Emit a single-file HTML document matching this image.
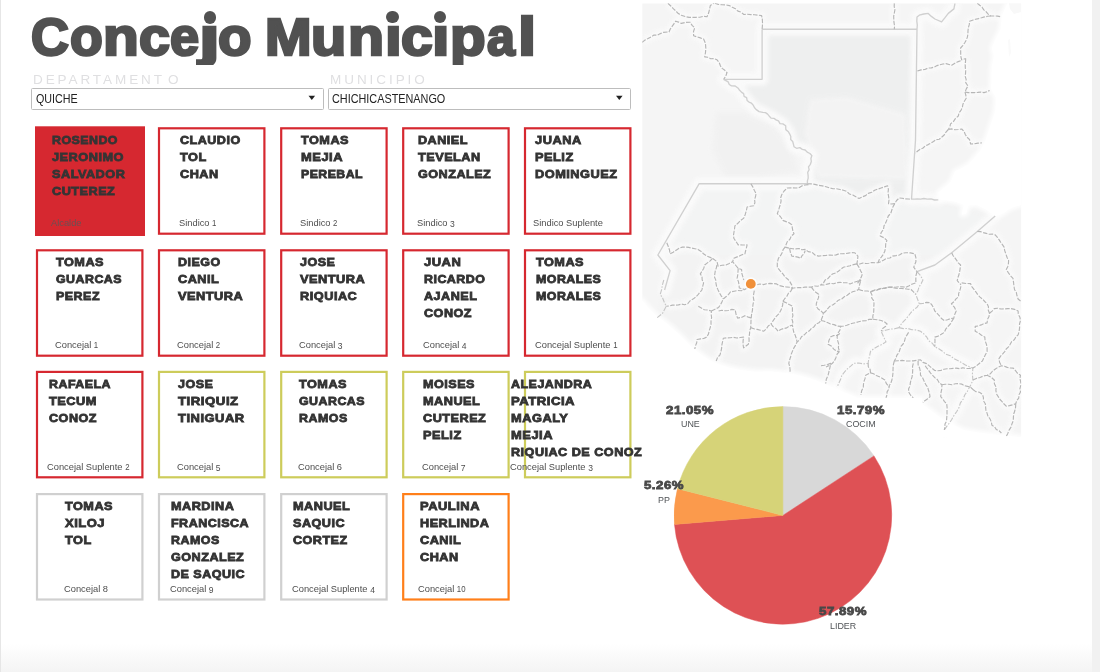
<!DOCTYPE html>
<html><head><meta charset="utf-8"><title>Concejo Municipal</title>
<style>
html,body{margin:0;padding:0;background:#fff;}
body{width:1100px;height:672px;position:relative;overflow:hidden;font-family:"Liberation Sans",sans-serif;}
div{position:absolute;white-space:nowrap;}
.hv{font-weight:bold;line-height:1;transform-origin:0 0;-webkit-text-stroke:0.8px currentColor;letter-spacing:0.45px;}
.lt{line-height:1;transform-origin:0 0;}
.title{font-weight:bold;line-height:1;color:#515151;-webkit-text-stroke:2.6px #515151;transform-origin:0 0;clip-path:inset(-20px -20px -1.8px -20px);}
.cap{color:#dfdfe1;line-height:1;}
.dd{box-sizing:border-box;border:1px solid #bdbdbd;border-radius:1.5px;background:#fff;height:22px;}
.ddt{font-size:12px;color:#222;line-height:1;transform-origin:0 0;}
svg{position:absolute;left:0;top:0;}
</style></head><body>
<div style="left:0;top:644px;width:1100px;height:28px;background:linear-gradient(to bottom,#ffffff,#f4f4f4)"></div>
<div style="left:1092px;top:0;width:8px;height:672px;background:#f1f1f1"></div>
<div style="left:0;top:0;width:1px;height:672px;background:#e6e6e6"></div>
<div class="title" style="left:31.29px;top:11.01px;font-size:52px;transform:scaleX(1.0083)">C</div>
<div class="title" style="left:70.30px;top:9.77px;font-size:53.5px;transform:scaleX(1.0032)">o</div>
<div class="title" style="left:103.11px;top:9.77px;font-size:53.5px;transform:scaleX(1.0931)">n</div>
<div class="title" style="left:138.86px;top:9.77px;font-size:53.5px;transform:scaleX(1.0393)">c</div>
<div class="title" style="left:170.02px;top:9.77px;font-size:53.5px;transform:scaleX(0.9786)">e</div>
<div class="title" style="left:199.00px;top:9.77px;font-size:53.5px;transform:scaleX(1.4000)">ȷ</div>
<div class="title" style="left:218.17px;top:9.77px;font-size:53.5px;transform:scaleX(1.0258)">o</div>
<div class="title" style="left:265.25px;top:11.01px;font-size:52px;transform:scaleX(1.0744)">M</div>
<div class="title" style="left:311.24px;top:9.77px;font-size:53.5px;transform:scaleX(1.0786)">u</div>
<div class="title" style="left:347.99px;top:9.77px;font-size:53.5px;transform:scaleX(1.1034)">n</div>
<div class="title" style="left:384.76px;top:9.77px;font-size:53.5px;transform:scaleX(1.1200)">ı</div>
<div class="title" style="left:400.74px;top:9.77px;font-size:53.5px;transform:scaleX(1.0643)">c</div>
<div class="title" style="left:432.16px;top:9.77px;font-size:53.5px;transform:scaleX(1.1700)">ı</div>
<div class="title" style="left:449.82px;top:9.77px;font-size:53.5px;transform:scaleX(1.0900)">p</div>
<div class="title" style="left:487.00px;top:9.77px;font-size:53.5px;transform:scaleX(0.9355)">a</div>
<div class="title" style="left:518.36px;top:9.77px;font-size:53.5px;transform:scaleX(1.2200)">l</div>
<div style="left:203.5px;top:11.2px;width:12.4px;height:12.4px;border-radius:50%;background:#515151"></div>
<div style="left:386.4px;top:11.2px;width:12.2px;height:12.2px;border-radius:50%;background:#515151"></div>
<div style="left:434.3px;top:11.2px;width:12.2px;height:12.2px;border-radius:50%;background:#515151"></div>
<div class="cap" style="left:33.4px;top:74.0px;font-size:12.3px;letter-spacing:2.64px;transform-origin:0 0;transform:scaleX(1.1)">DEPARTAMENT</div>
<div class="cap" style="left:167.7px;top:74.0px;font-size:12.3px;letter-spacing:0.00px;transform-origin:0 0;transform:scaleX(1.1)">O</div>
<div class="cap" style="left:329.9px;top:74.0px;font-size:12.3px;letter-spacing:2.66px;transform-origin:0 0;transform:scaleX(1.1)">MUNICIPIO</div>
<div class="dd" style="left:31px;top:88px;width:292.5px;"></div>
<div class="dd" style="left:327.5px;top:88px;width:303.5px;"></div>
<div class="ddt" style="left:36px;top:93.4px;transform:scaleX(0.895)">QUICHE</div>
<div class="ddt" style="left:331.7px;top:93.4px;transform:scaleX(0.904)">CHICHICASTENANGO</div>

<svg width="1100" height="672" viewBox="0 0 1100 672">
<path d="M308.5 95.7h6.6l-3.3 4.4z" fill="#222"/>
<path d="M616.0 95.7h6.6l-3.3 4.4z" fill="#222"/>
<rect x="35.0" y="126.3" width="110.0" height="109.7" fill="#d62830"/>
<rect x="159.0" y="128.3" width="105.4" height="105.4" fill="none" stroke="#d62830" stroke-width="2.2"/>
<rect x="281.2" y="128.3" width="105.4" height="105.4" fill="none" stroke="#d62830" stroke-width="2.2"/>
<rect x="403.2" y="128.3" width="105.4" height="105.4" fill="none" stroke="#d62830" stroke-width="2.2"/>
<rect x="525.0" y="128.3" width="105.4" height="105.4" fill="none" stroke="#d62830" stroke-width="2.2"/>
<rect x="37.0" y="250.3" width="105.4" height="105.4" fill="none" stroke="#d62830" stroke-width="2.2"/>
<rect x="159.0" y="250.3" width="105.4" height="105.4" fill="none" stroke="#d62830" stroke-width="2.2"/>
<rect x="281.2" y="250.3" width="105.4" height="105.4" fill="none" stroke="#d62830" stroke-width="2.2"/>
<rect x="403.2" y="250.3" width="105.4" height="105.4" fill="none" stroke="#d62830" stroke-width="2.2"/>
<rect x="525.0" y="250.3" width="105.4" height="105.4" fill="none" stroke="#d62830" stroke-width="2.2"/>
<rect x="37.0" y="371.9" width="105.4" height="105.4" fill="none" stroke="#d62830" stroke-width="2.2"/>
<rect x="159.0" y="371.9" width="105.4" height="105.4" fill="none" stroke="#cdcc5b" stroke-width="2.2"/>
<rect x="281.2" y="371.9" width="105.4" height="105.4" fill="none" stroke="#cdcc5b" stroke-width="2.2"/>
<rect x="403.2" y="371.9" width="105.4" height="105.4" fill="none" stroke="#cdcc5b" stroke-width="2.2"/>
<rect x="525.0" y="371.9" width="105.4" height="105.4" fill="none" stroke="#cdcc5b" stroke-width="2.2"/>
<rect x="37.0" y="494.1" width="105.4" height="105.4" fill="none" stroke="#d0d0d0" stroke-width="2.2"/>
<rect x="159.0" y="494.1" width="105.4" height="105.4" fill="none" stroke="#d0d0d0" stroke-width="2.2"/>
<rect x="281.2" y="494.1" width="105.4" height="105.4" fill="none" stroke="#d0d0d0" stroke-width="2.2"/>
<rect x="403.2" y="494.1" width="105.4" height="105.4" fill="none" stroke="#ff7f1a" stroke-width="2.2"/>
<defs><clipPath id="mapclip"><rect x="642.2" y="3.3" width="379.1" height="433.9"/></clipPath>
<filter id="b3" x="-20%" y="-20%" width="140%" height="140%"><feGaussianBlur stdDeviation="2.2"/></filter>
<filter id="b1" x="-20%" y="-20%" width="140%" height="140%"><feGaussianBlur stdDeviation="0.35"/></filter></defs>
<g id="map" clip-path="url(#mapclip)">
<rect x="642.2" y="3.3" width="379.1" height="433.9" fill="#f5f5f5"/>
<path d="M762.1 29.2 L917.0 29.2 L915.5 140.0 L911.5 199.2 L899.2 198.0 L894.7 203.6 L888.5 203.6 L887.6 185.8 L874.6 190.2 L859.0 198.5 L843.4 190.2 L829.7 188.0 L807.4 183.7 L808.5 166.8 L811.9 155.6 L805.2 150.0 L794.0 146.7 L790.7 139.5 L788.4 131.7 L782.9 123.9 L773.9 118.3 L762.8 112.3 L756.0 109.4 L747.1 100.4 L738.2 88.2 L731.5 85.9 L723.7 79.3 L762.1 79.3 Z" fill="#eeefef" filter="url(#b3)" opacity="0.9"/>
<path d="M809.6 99 L847 96.5 L906 113.7 L908 180 L817.6 178 L804.3 132.5 Z" fill="#f4f4f4" filter="url(#b3)" opacity="0.95"/>
<path d="M716 112 L745 112 L775 126 L793 150 L799 172 L760 178 L725 178 L712 150 Z" fill="#efefef" filter="url(#b3)" opacity="0.55"/>
<path d="M699.2 183.7 L807.4 183.7 L843.4 190.2 L859.0 198.5 L887.6 185.8 L911.5 199.2 L938.3 199.8 L963.9 204.7 L995.2 215.9 L951.7 252.7 L917.0 271.7 L919.3 303.8 L899.0 327.6 L881.2 331.2 L868.1 363.3 L841.9 375.2 L837.1 390.0 L806.7 377.6 L754.3 371.7 L711.4 361.0 L678.1 333.6 L656.7 318.1 L664.6 290.0 L670.1 270.6 L657.9 255.0 Z" fill="#f1f2f2" filter="url(#b3)" opacity="0.35"/>
<g fill="none" stroke="#fafafa" stroke-width="13" stroke-linejoin="round" stroke-linecap="round" filter="url(#b3)" opacity="0.95">
<path d="M762.1 29.2 L917.0 29.2"/>
<path d="M762.1 29.2 L762.1 79.3 L723.7 79.3"/>
<path d="M723.7 79.3 L731.5 85.9 L738.2 88.2 L747.1 100.4 L756.0 109.4 L762.8 112.3 L773.9 118.3 L782.9 123.9 L788.4 131.7 L790.7 139.5 L794.0 146.7 L805.2 150.0 L811.9 155.6 L808.5 166.8 L807.4 183.7"/>
<path d="M807.4 183.7 L699.2 183.7 L657.9 255.0 L670.1 270.6 L664.6 290.0"/>
<path d="M955.0 3.3 L953.9 8.9 L948.3 13.4 L941.6 21.9 L934.9 19.0 L928.2 13.4 L919.3 15.2 L917.0 17.0 L917.0 29.2 L915.5 140.0 L911.5 199.2"/>
<path d="M911.5 199.2 L923.8 198.5 L938.3 199.8"/>
<path d="M995.2 215.9 L977.3 231.5 L951.7 252.7 L934.9 265.0 L917.0 271.7"/>
<path d="M917.0 271.7 L922.9 280.0 L915.7 294.3 L919.3 303.8 L908.6 315.7 L899.0 327.6"/>
<path d="M899.0 327.6 L881.2 331.2 L886.0 341.9 L870.5 351.4 L868.1 363.3 L853.8 363.3 L841.9 375.2 L837.1 387.1"/>
<path d="M899.0 327.6 L920.5 331.2 L934.8 346.7 L953.8 358.6 L972.9 368.1 L972.9 380.0 L963.3 399.0 L953.8 415.7 L944.3 430.0"/>
</g>
<g fill="none" stroke="#fafafa" stroke-width="8" stroke-linejoin="round" filter="url(#b3)" opacity="0.9">
<path d="M667.9 3.3 L673.5 8.9 L681.3 15.2 L689.1 17.4 L707.0 16.7 L710.3 5.6 L713.7 3.3"/>
<path d="M714.8 3.3 L729.3 5.6 L743.8 14.5 L761.6 15.6 L762.1 29.2"/>
<path d="M642.2 42.4 L651.2 36.8 L663.4 32.4 L669.0 31.9 L675.7 21.2 L681.3 23.4 L690.2 22.3 L694.7 27.9 L693.6 35.7 L703.6 39.0 L705.8 48.0 L704.7 56.9 L717.0 59.8 L720.4 65.8 L727.0 72.5 L723.7 79.3"/>
<path d="M894.3 3.3 L894.3 29.2"/>
<path d="M977.3 3.3 L990.7 16.0 L1000.8 16.7"/>
<path d="M990.7 16.0 L969.5 21.2 L966.2 40.2 L960.6 48.0 L961.7 59.8 L965.7 58.5"/>
<path d="M917.4 71.0 L928.2 68.0 L946.0 63.6 L951.7 65.2 L961.7 60.3"/>
<path d="M965.7 58.5 L965.7 82.6 L968.0 86.0 L965.0 92.0"/>
<path d="M965.0 92.0 L984.0 92.6 L989.6 90.4"/>
<path d="M965.0 92.0 L966.2 98.2 L958.3 116.0 L950.5 123.9 L948.3 129.5"/>
<path d="M948.3 129.5 L961.7 129.0 L969.5 139.5 L970.6 144.0 L981.8 142.9"/>
<path d="M948.3 129.5 L941.6 137.3 L928.2 144.6 L915.4 153.0"/>
<path d="M807.4 183.7 L818.6 185.3 L829.7 188.0 L843.4 190.2 L859.0 198.5 L874.6 190.2 L887.6 185.8 L888.5 203.6 L894.7 203.6 L899.2 198.0 L911.5 199.2"/>
<path d="M750.9 183.7 L756.1 193.6 L753.8 205.8 L747.1 207.0 L743.8 218.1 L734.9 225.9 L733.8 238.2 L738.2 244.9 L747.1 244.9 L744.9 253.8 L733.8 258.3 L732.6 261.7 L738.2 268.3 L741.6 269.5 L743.8 280.0"/>
<path d="M808.5 184.6 L796.2 188.0 L787.3 188.0 L781.7 194.7 L779.5 207.0 L777.3 213.7 L782.9 220.4 L791.8 224.8 L794.0 233.8 L787.3 241.6 L785.1 247.1 L789.6 248.3"/>
<path d="M789.6 248.3 L805.2 249.4 L818.6 256.1 L830.0 255.0 L854.6 252.7 L857.9 256.1 L856.8 263.9 L878.0 262.8 L892.5 256.1 L905.9 252.7 L914.8 253.8 L915.9 261.7 L913.7 267.2 L917.0 271.7"/>
<path d="M789.6 248.3 L791.8 256.1 L800.7 258.3 L805.2 250.5"/>
<path d="M785.1 247.1 L778.4 258.3 L777.3 267.2 L782.9 273.9 L791.8 285.1 L792.4 288.3"/>
<path d="M894.7 203.6 L885.8 222.6 L880.2 236.0 L886.9 240.4 L884.7 251.6 L878.0 262.8"/>
<path d="M666.8 242.7 L670.1 253.8 L682.4 247.1 L698.0 249.4 L707.0 256.1 L712.5 258.3 L717.0 261.7 L718.1 266.1 L725.9 265.0 L732.6 261.7"/>
<path d="M712.5 258.3 L704.7 265.0 L700.3 273.9 L703.6 282.9 L701.9 290.0 L698.3 294.3 L687.6 303.8 L666.2 306.2"/>
<path d="M717.0 265.0 L714.8 273.9 L715.9 282.9 L718.1 290.0 L723.3 299.0"/>
<path d="M738.2 268.3 L737.1 278.4 L739.3 288.0 L744.8 289.5"/>
<path d="M756.7 284.8 L773.3 283.6 L792.4 288.3 L811.4 287.1 L821.0 284.8 L840.0 282.4 L850.0 284.0 L861.0 280.0"/>
<path d="M698.3 306.2 L704.3 309.8 L711.4 311.0 L710.2 327.6 L706.7 337.1 L697.1 339.5 L694.8 349.0"/>
<path d="M711.4 311.0 L718.6 307.4 L723.3 299.0 L730.5 291.9 L744.8 289.5 L749.5 286.5"/>
<path d="M718.6 311.0 L735.2 309.8 L737.6 318.1 L744.8 315.7 L751.9 318.1"/>
<path d="M754.3 290.7 L753.1 303.8 L750.7 327.6 L748.3 344.3 L743.6 347.9 L743.6 337.1 L723.3 338.3 L721.0 351.4 L716.2 361.0"/>
<path d="M750.7 327.6 L763.8 331.2 L771.0 324.0 L778.1 331.2 L792.4 325.2 L797.1 341.9 L792.4 351.4 L788.8 363.3 L790.0 373.0"/>
<path d="M792.4 288.3 L782.9 301.4 L780.5 311.0 L771.0 324.0"/>
<path d="M782.9 301.4 L792.4 306.2 L792.4 325.2"/>
<path d="M811.4 287.1 L818.6 294.3 L816.2 306.2 L823.3 313.3 L821.0 320.5 L806.7 332.4 L797.1 341.9"/>
<path d="M823.3 313.3 L830.0 306.2 L844.3 296.7 L858.6 289.5 L861.0 280.0"/>
<path d="M821.0 320.5 L830.5 324.0 L840.7 326.4"/>
<path d="M840.0 333.6 L830.5 337.1 L828.1 344.3 L837.6 351.4 L839.5 351.4"/>
<path d="M821.0 365.7 L830.5 363.3 L828.1 375.2 L825.7 383.5"/>
<path d="M856.8 263.9 L843.4 267.2 L830.0 276.2 L821.0 284.8"/>
<path d="M856.8 263.9 L862.4 273.9 L857.9 282.9 L861.0 280.0"/>
<path d="M917.0 271.7 L915.9 282.9 L905.9 287.3 L888.0 287.3 L874.6 290.0 L870.5 291.9"/>
<path d="M858.6 289.5 L870.5 291.9 L874.0 303.8 L872.9 319.3 L858.6 321.7 L840.7 326.4 L837.1 337.1 L839.5 351.4 L832.4 363.3 L826.0 367.0"/>
<path d="M870.5 291.9 L889.5 287.1 L911.0 289.5 L915.7 294.3"/>
<path d="M872.9 319.3 L881.2 320.5 L887.1 324.0 L881.2 331.2"/>
<path d="M977.3 231.5 L995.2 234.9 L1004.1 247.1 L1008.6 260.5 L1006.3 269.5 L1013.0 278.4 L1014.5 289.5 L1018.1 299.0 L1021.0 301.4"/>
<path d="M951.7 252.7 L960.6 265.0 L957.2 280.6 L961.0 284.8"/>
<path d="M961.7 282.9 L970.5 283.6 L977.6 294.3 L987.1 303.8 L989.5 313.3 L987.1 322.9 L975.2 326.4 L975.2 331.2 L984.8 337.1 L987.1 351.4 L982.4 361.0 L972.9 368.1"/>
<path d="M919.3 303.8 L930.0 302.6 L937.1 313.3 L944.3 320.5 L953.8 318.1 L956.2 311.0 L951.4 303.8 L958.6 296.7 L961.0 284.8"/>
<path d="M953.8 318.1 L944.3 332.4 L934.8 337.1 L934.8 346.7"/>
<path d="M989.5 313.3 L994.3 308.6 L1011.0 308.6 L1018.1 311.0 L1020.5 320.5 L1018.1 334.8 L1006.2 349.0 L999.0 358.6 L1001.4 365.7"/>
<path d="M972.9 380.0 L987.1 375.2 L1001.4 365.7 L1013.3 368.1 L1020.5 375.2 L1020.5 391.9 L1015.7 403.8 L1006.2 406.2 L996.7 394.3 L994.3 380.0 L987.1 375.2"/>
<path d="M1015.7 403.8 L1013.3 420.5 L1006.2 436.5"/>
<path d="M972.9 389.5 L982.4 394.3 L987.1 413.3 L991.9 425.2 L1001.4 433.0"/>
<path d="M908.6 332.4 L894.3 361.0"/>
<path d="M894.3 361.0 L906.2 361.0 L920.5 359.8 L934.8 370.5 L956.2 368.1 L972.9 368.1"/>
<path d="M894.3 361.0 L891.9 380.0 L887.1 391.9 L886.0 397.9"/>
<path d="M913.3 363.3 L911.0 380.0 L908.6 391.9 L913.3 397.9"/>
<path d="M918.1 361.0 L920.5 375.2 L927.6 387.1 L930.0 396.7 L922.9 402.5"/>
<path d="M925.2 365.7 L934.8 377.6 L941.9 384.8 L940.7 396.7 L946.7 403.8 L946.7 418.1 L944.3 430.0"/>
<path d="M941.9 384.8 L958.6 383.6 L970.5 387.1 L972.9 389.5"/>
<path d="M868.1 363.3 L870.5 372.9 L865.7 375.2 L863.3 387.1 L861.0 395.0"/>
<path d="M870.5 372.9 L884.8 380.0 L889.5 387.1"/>
</g>
<path d="M1007.5 3.3 L1001.9 15.6 L1000.8 29.0 L995.2 40.0 L991.8 48.0 L994.0 55.8 L991.8 67.0 L991.2 89.3 L996.3 98.2 L995.2 111.6 L990.7 125.0 L986.3 138.4 L980.5 150.7 L968.5 164.4 L961.0 168.5 L955.0 171.2 L950.5 182.4 L938.3 192.5 L939.4 199.2 L955.0 201.4 L963.9 204.7 L961.7 214.8 L966.2 213.7 L968.4 205.5 L976.0 204.5 L986.0 209.5 L995.2 215.9 L1003.0 213.5 L1010.0 208.5 L1021.3 204.7 L1022.3 204.7 L1022.3 2.3 L1007.5 2.3 Z" fill="#fff" stroke="#fff" stroke-width="5" stroke-linejoin="round" filter="url(#b3)" opacity="0.9"/>
<path d="M1007.5 3.3 L1001.9 15.6 L1000.8 29.0 L995.2 40.0 L991.8 48.0 L994.0 55.8 L991.8 67.0 L991.2 89.3 L996.3 98.2 L995.2 111.6 L990.7 125.0 L986.3 138.4 L980.5 150.7 L968.5 164.4 L961.0 168.5 L955.0 171.2 L950.5 182.4 L938.3 192.5 L939.4 199.2 L955.0 201.4 L963.9 204.7 L961.7 214.8 L966.2 213.7 L968.4 205.5 L976.0 204.5 L986.0 209.5 L995.2 215.9 L1003.0 213.5 L1010.0 208.5 L1021.3 204.7 L1022.3 204.7 L1022.3 2.3 L1007.5 2.3 Z" fill="#fff"/>
<path d="M642.4 300.2 C643.2 301.2 644.7 303.6 647.1 306.2 C649.5 308.8 653.5 312.9 656.7 315.7 C659.9 318.5 662.6 319.9 666.2 322.9 C669.8 325.9 674.5 330.2 678.1 333.6 C681.7 337.0 684.4 340.1 687.6 343.1 C690.8 346.1 693.1 348.4 697.1 351.4 C701.1 354.4 705.8 358.2 711.4 361.0 C717.0 363.8 723.4 366.3 730.5 368.1 C737.6 369.9 747.2 371.1 754.3 371.7 C761.4 372.3 766.9 371.3 773.3 371.7 C779.6 372.1 786.8 373.0 792.4 374.0 C798.0 375.0 801.9 376.2 806.7 377.6 C811.5 379.0 815.5 380.3 821.0 382.4 C826.5 384.5 834.0 387.9 839.5 390.2 C845.0 392.5 851.4 395.2 853.8 396.2 L858.0 397.9 L921.7 397.9 L921.7 403.8 L944.3 420.5 L963.3 430.0 L977.6 432.4 L996.7 434.8 L1021.3 437.2 L1022.3 438.2 L641.2 438.2 L641.2 299.5 Z" fill="#fff" stroke="#fff" stroke-width="5" stroke-linejoin="round" filter="url(#b3)" opacity="0.9"/>
<path d="M642.4 300.2 C643.2 301.2 644.7 303.6 647.1 306.2 C649.5 308.8 653.5 312.9 656.7 315.7 C659.9 318.5 662.6 319.9 666.2 322.9 C669.8 325.9 674.5 330.2 678.1 333.6 C681.7 337.0 684.4 340.1 687.6 343.1 C690.8 346.1 693.1 348.4 697.1 351.4 C701.1 354.4 705.8 358.2 711.4 361.0 C717.0 363.8 723.4 366.3 730.5 368.1 C737.6 369.9 747.2 371.1 754.3 371.7 C761.4 372.3 766.9 371.3 773.3 371.7 C779.6 372.1 786.8 373.0 792.4 374.0 C798.0 375.0 801.9 376.2 806.7 377.6 C811.5 379.0 815.5 380.3 821.0 382.4 C826.5 384.5 834.0 387.9 839.5 390.2 C845.0 392.5 851.4 395.2 853.8 396.2 L858.0 397.9 L921.7 397.9 L921.7 403.8 L944.3 420.5 L963.3 430.0 L977.6 432.4 L996.7 434.8 L1021.3 437.2 L1022.3 438.2 L641.2 438.2 L641.2 299.5 Z" fill="#fff"/>
<path d="M1009 3 L1021 3 L1021 12 L1014 14 L1010 9 Z" fill="#f8f8f8"/>
<path d="M1008 40 l2 -1 l1 14 l-2 4 z" fill="#fafafa"/>
<g fill="none" stroke="#d0d0d0" stroke-width="1.35" stroke-linejoin="round">
<path d="M762.1 29.2 L917.0 29.2"/>
<path d="M762.1 29.2 L762.1 79.3 L723.7 79.3"/>
<path d="M807.4 183.7 L699.2 183.7 L657.9 255.0 L670.1 270.6 L664.6 290.0"/>
<path d="M723.7 79.3 L725.9 80.6 L728.2 81.9 L729.3 84.5 L731.5 85.9 L735.2 86.0 L738.2 88.2 L739.6 90.3 L741.4 92.1 L743.6 93.6 L744.1 96.3 L746.6 97.7 L747.1 100.4 L749.0 102.1 L751.5 103.2 L753.2 105.1 L754.4 107.5 L756.0 109.4 L759.1 111.6 L762.8 112.3 L765.5 112.6 L767.6 114.1 L769.3 116.2 L771.1 118.1 L773.9 118.3 L776.0 119.9 L778.5 120.9 L780.0 123.6 L782.9 123.9 L785.7 125.8 L785.8 129.6 L788.4 131.7 L789.7 134.1 L790.8 136.6 L790.7 139.5 L792.7 141.5 L793.4 144.1 L794.0 146.7 L796.6 148.3 L799.8 147.6 L802.3 149.4 L805.2 150.0 L807.2 152.1 L809.9 153.5 L811.9 155.6 L810.9 158.4 L811.3 161.5 L810.4 164.3 L808.5 166.8 L809.1 169.7 L807.7 172.4 L808.1 175.3 L808.2 178.1 L807.4 180.9 L807.4 183.7"/>
<path d="M955.0 3.3 L953.9 8.9 L948.3 13.4 L945.0 17.7 L941.6 21.9 L934.9 19.0 L931.4 16.4 L928.2 13.4 L923.7 14.0 L919.3 15.2 L917.0 17.0 L916.8 21.1 L917.3 25.1 L917.0 29.2 L915.5 140.0 L911.5 199.2"/>
<path d="M911.5 199.2 L914.6 199.1 L917.6 198.9 L920.7 199.1 L923.8 198.5 L927.4 199.1 L931.0 198.9 L934.6 200.0 L938.3 199.8"/>
<path d="M995.2 215.9 L977.3 231.5 L951.7 252.7 L934.9 265.0 L917.0 271.7"/>
</g>
<g fill="none" stroke="#c6c6c6" stroke-width="1.1" stroke-linejoin="round" stroke-dasharray="5 1.5 1.5 1.5">
<path d="M917.0 271.7 L920.4 275.5 L922.9 280.0 L921.2 283.6 L919.0 287.0 L917.9 290.9 L915.7 294.3 L917.5 299.0 L919.3 303.8 L917.1 307.2 L913.8 309.6 L911.0 312.5 L908.6 315.7 L905.3 319.6 L901.8 323.3 L899.0 327.6"/>
<path d="M899.0 327.6 L894.6 328.8 L890.0 329.1 L885.6 330.2 L881.2 331.2 L883.5 336.6 L886.0 341.9 L882.2 344.3 L878.0 346.2 L874.0 348.5 L870.5 351.4 L869.7 355.4 L868.7 359.3 L868.1 363.3 L863.3 363.9 L858.6 363.0 L853.8 363.3 L850.7 366.1 L847.4 368.8 L844.6 371.9 L841.9 375.2 L840.6 379.3 L838.8 383.2 L837.1 387.1"/>
<path d="M899.0 327.6 L903.3 328.6 L907.7 328.4 L911.9 329.7 L916.3 330.0 L920.5 331.2 L923.8 333.9 L926.7 337.0 L928.8 340.8 L932.3 343.2 L934.8 346.7 L938.8 348.8 L942.5 351.3 L945.9 354.3 L950.3 355.7 L953.8 358.6 L957.7 360.4 L961.4 362.5 L965.0 364.8 L968.9 366.6 L972.9 368.1 L972.4 374.1 L972.9 380.0 L971.3 383.9 L969.2 387.7 L967.3 391.5 L964.7 395.0 L963.3 399.0 L960.4 402.9 L959.0 407.6 L956.6 411.7 L953.8 415.7 L951.7 419.5 L949.4 423.1 L946.7 426.4 L944.3 430.0"/>
<path d="M663.8 280.0 L662.5 284.7 L661.6 289.6 L660.2 294.3 L662.6 298.0 L664.3 302.2 L666.2 306.2 L662.6 313.3 L656.7 318.1"/>
</g>
<g fill="none" stroke="#b6b6b6" stroke-width="1.15" stroke-linejoin="round" stroke-dasharray="4.5 1.4">
<path d="M667.9 3.3 L670.8 6.0 L673.5 8.9 L676.0 11.1 L678.3 13.6 L681.3 15.2 L685.1 16.5 L689.1 17.4 L692.7 17.3 L696.3 17.3 L699.8 17.2 L703.4 16.3 L707.0 16.7 L708.6 13.1 L709.5 9.4 L710.3 5.6 L713.7 3.3"/>
<path d="M714.8 3.3 L718.3 4.4 L722.0 4.8 L725.7 4.9 L729.3 5.6 L732.3 7.3 L735.4 8.7 L737.9 11.1 L741.2 12.2 L743.8 14.5 L747.4 14.2 L750.9 14.6 L754.5 14.7 L758.1 15.2 L761.6 15.6 L762.3 19.0 L762.5 22.4 L762.4 25.8 L762.1 29.2"/>
<path d="M642.2 42.4 L644.9 40.1 L648.1 38.5 L651.2 36.8 L654.0 35.1 L657.5 35.1 L660.4 33.6 L663.4 32.4 L669.0 31.9 L670.3 29.0 L672.1 26.4 L673.9 23.8 L675.7 21.2 L678.6 22.1 L681.3 23.4 L685.7 22.4 L690.2 22.3 L692.1 25.4 L694.7 27.9 L693.5 31.7 L693.6 35.7 L696.9 36.8 L700.3 37.9 L703.6 39.0 L704.9 41.9 L705.6 44.9 L705.8 48.0 L705.5 52.5 L704.7 56.9 L707.8 57.3 L710.8 58.8 L714.0 58.6 L717.0 59.8 L719.2 62.5 L720.4 65.8 L722.2 68.4 L724.8 70.3 L727.0 72.5 L725.8 76.1 L723.7 79.3"/>
<path d="M894.3 3.3 L894.2 6.5 L894.9 9.8 L894.3 13.0 L893.7 16.2 L893.8 19.5 L894.0 22.7 L894.6 26.0 L894.3 29.2"/>
<path d="M977.3 3.3 L979.7 5.3 L982.1 7.2 L983.8 9.9 L986.2 11.8 L988.2 14.1 L990.7 16.0 L994.1 16.0 L997.5 16.1 L1000.8 16.7"/>
<path d="M990.7 16.0 L987.6 16.3 L984.5 16.9 L981.5 17.8 L978.5 18.6 L975.5 19.3 L972.5 20.2 L969.5 21.2 L969.3 24.4 L968.4 27.5 L968.0 30.7 L967.9 34.0 L967.4 37.1 L966.2 40.2 L964.6 43.0 L962.7 45.6 L960.6 48.0 L960.7 52.0 L960.7 55.9 L961.7 59.8 L965.7 58.5"/>
<path d="M917.4 71.0 L921.0 69.9 L924.8 69.5 L928.2 68.0 L931.3 67.9 L934.3 67.1 L937.1 65.6 L940.0 64.7 L942.9 64.0 L946.0 63.6 L951.7 65.2 L954.9 63.2 L958.2 61.6 L961.7 60.3"/>
<path d="M965.7 58.5 L965.5 61.5 L965.2 64.5 L965.3 67.5 L965.7 70.5 L965.5 73.6 L965.3 76.6 L966.2 79.6 L965.7 82.6 L968.0 86.0 L966.3 88.9 L965.0 92.0"/>
<path d="M965.0 92.0 L968.1 92.6 L971.3 92.6 L974.5 92.6 L977.7 92.4 L980.8 92.1 L984.0 92.6 L986.9 91.8 L989.6 90.4"/>
<path d="M965.0 92.0 L965.8 95.1 L966.2 98.2 L964.5 101.0 L963.0 103.9 L962.4 107.2 L961.1 110.1 L959.1 112.8 L958.3 116.0 L955.5 118.4 L953.4 121.6 L950.5 123.9 L949.9 126.9 L948.3 129.5"/>
<path d="M948.3 129.5 L951.6 128.9 L955.0 129.8 L958.4 129.5 L961.7 129.0 L964.0 131.4 L965.3 134.5 L967.0 137.2 L969.5 139.5 L970.6 144.0 L974.4 143.8 L978.0 143.1 L981.8 142.9"/>
<path d="M948.3 129.5 L946.0 132.1 L944.2 135.0 L941.6 137.3 L939.2 139.3 L935.9 139.7 L933.5 141.5 L930.9 143.1 L928.2 144.6 L925.3 145.8 L923.1 148.0 L920.3 149.2 L917.7 151.0 L915.4 153.0"/>
<path d="M807.4 183.7 L811.2 183.9 L814.9 184.4 L818.6 185.3 L822.4 185.9 L826.1 186.8 L829.7 188.0 L833.1 188.7 L836.6 188.8 L840.0 189.5 L843.4 190.2 L846.7 191.4 L849.4 194.0 L852.8 195.0 L855.9 196.8 L859.0 198.5 L862.2 196.9 L865.5 195.6 L868.3 193.4 L871.7 192.3 L874.6 190.2 L877.9 189.1 L881.1 188.0 L884.4 186.9 L887.6 185.8 L888.4 189.3 L888.0 192.9 L888.6 196.4 L889.0 200.0 L888.5 203.6 L891.6 204.0 L894.7 203.6 L896.6 200.5 L899.2 198.0 L902.3 198.3 L905.3 198.9 L908.4 199.0 L911.5 199.2"/>
<path d="M750.9 183.7 L752.8 186.9 L754.3 190.3 L756.1 193.6 L755.5 196.6 L754.6 199.6 L754.9 202.8 L753.8 205.8 L750.4 206.3 L747.1 207.0 L746.3 210.8 L745.2 214.5 L743.8 218.1 L740.6 220.4 L737.9 223.3 L734.9 225.9 L734.5 229.0 L734.0 232.0 L733.5 235.1 L733.8 238.2 L736.0 241.5 L738.2 244.9 L742.7 245.0 L747.1 244.9 L746.4 247.9 L745.6 250.8 L744.9 253.8 L742.0 254.7 L739.3 256.1 L736.5 257.1 L733.8 258.3 L732.6 261.7 L735.4 265.0 L738.2 268.3 L741.6 269.5 L741.8 273.1 L742.8 276.6 L743.8 280.0"/>
<path d="M808.5 184.6 L805.3 185.0 L802.2 185.7 L799.4 187.5 L796.2 188.0 L791.8 187.9 L787.3 188.0 L784.1 191.0 L781.7 194.7 L780.7 197.7 L781.1 200.9 L780.5 204.0 L779.5 207.0 L778.5 210.4 L777.3 213.7 L780.5 216.7 L782.9 220.4 L786.0 221.6 L789.1 222.8 L791.8 224.8 L792.3 227.8 L792.9 230.9 L794.0 233.8 L791.4 236.0 L789.9 239.3 L787.3 241.6 L785.1 247.1 L789.6 248.3"/>
<path d="M789.6 248.3 L792.7 248.8 L795.8 248.9 L799.0 248.5 L802.0 249.7 L805.2 249.4 L808.3 251.6 L812.1 252.4 L815.0 255.0 L818.6 256.1 L822.4 255.6 L826.2 255.4 L830.0 255.0 L833.1 255.3 L836.2 254.9 L839.2 253.7 L842.3 253.8 L845.4 253.6 L848.4 253.1 L851.5 252.6 L854.6 252.7 L857.9 256.1 L857.6 260.0 L856.8 263.9 L859.8 264.0 L862.8 263.0 L865.9 263.5 L868.9 263.2 L871.9 262.5 L875.0 262.7 L878.0 262.8 L881.0 261.6 L883.8 260.1 L886.5 258.3 L889.9 258.0 L892.5 256.1 L895.9 255.6 L899.4 255.0 L902.4 253.1 L905.9 252.7 L910.4 252.9 L914.8 253.8 L915.9 257.7 L915.9 261.7 L913.7 267.2 L917.0 271.7"/>
<path d="M789.6 248.3 L790.4 252.3 L791.8 256.1 L794.8 256.5 L797.8 257.1 L800.7 258.3 L802.1 255.6 L804.2 253.4 L805.2 250.5"/>
<path d="M785.1 247.1 L783.1 249.7 L782.0 252.9 L780.5 255.7 L778.4 258.3 L777.3 262.7 L777.3 267.2 L780.0 270.6 L782.9 273.9 L784.9 276.9 L787.8 279.2 L790.0 281.9 L791.8 285.1 L792.4 288.3"/>
<path d="M894.7 203.6 L893.0 206.7 L891.8 210.0 L890.8 213.3 L888.3 216.0 L887.1 219.4 L885.8 222.6 L884.0 225.8 L883.5 229.5 L881.2 232.5 L880.2 236.0 L883.9 237.7 L886.9 240.4 L885.7 244.0 L885.5 247.9 L884.7 251.6 L883.2 254.5 L881.3 257.2 L879.2 259.7 L878.0 262.8"/>
<path d="M666.8 242.7 L668.2 246.3 L669.5 250.0 L670.1 253.8 L673.2 252.2 L676.1 250.2 L679.1 248.3 L682.4 247.1 L685.6 247.1 L688.7 247.4 L691.8 248.1 L694.9 248.7 L698.0 249.4 L701.2 251.4 L703.8 254.1 L707.0 256.1 L712.5 258.3 L717.0 261.7 L718.1 266.1 L722.0 265.3 L725.9 265.0 L729.3 263.4 L732.6 261.7"/>
<path d="M712.5 258.3 L710.2 260.9 L707.4 262.9 L704.7 265.0 L703.8 268.2 L702.1 271.1 L700.3 273.9 L702.0 276.7 L702.2 280.0 L703.6 282.9 L702.7 286.4 L701.9 290.0 L698.3 294.3 L695.9 297.0 L693.0 299.1 L689.9 301.0 L687.6 303.8 L684.6 304.7 L681.4 304.1 L678.4 304.9 L675.4 305.2 L672.3 305.1 L669.3 306.0 L666.2 306.2"/>
<path d="M717.0 265.0 L716.3 268.0 L715.3 270.9 L714.8 273.9 L714.5 277.0 L715.7 279.9 L715.9 282.9 L716.6 286.6 L718.1 290.0 L719.6 293.1 L721.4 296.1 L723.3 299.0"/>
<path d="M738.2 268.3 L738.0 271.7 L737.7 275.1 L737.1 278.4 L738.4 281.5 L739.0 284.7 L739.3 288.0 L744.8 289.5"/>
<path d="M756.7 284.8 L760.0 284.0 L763.4 284.6 L766.6 283.8 L769.9 283.4 L773.3 283.6 L776.6 283.9 L779.6 285.6 L782.7 286.4 L786.0 286.9 L789.3 287.2 L792.4 288.3 L795.5 287.8 L798.7 287.6 L801.9 287.6 L805.0 287.1 L808.2 287.2 L811.4 287.1 L814.5 286.0 L817.9 286.2 L821.0 284.8 L824.2 285.0 L827.3 284.1 L830.5 283.3 L833.7 283.8 L836.8 282.6 L840.0 282.4 L843.4 282.7 L846.8 282.8 L850.0 284.0 L853.6 282.5 L857.3 281.3 L861.0 280.0"/>
<path d="M698.3 306.2 L701.3 308.0 L704.3 309.8 L707.9 310.0 L711.4 311.0 L711.2 314.3 L711.6 317.7 L711.0 321.0 L711.0 324.3 L710.2 327.6 L709.2 330.8 L708.4 334.1 L706.7 337.1 L703.7 338.5 L700.4 338.9 L697.1 339.5 L696.7 342.7 L695.5 345.8 L694.8 349.0"/>
<path d="M711.4 311.0 L715.0 309.2 L718.6 307.4 L720.5 304.8 L721.9 301.9 L723.3 299.0 L725.9 296.8 L728.4 294.6 L730.5 291.9 L734.1 291.2 L737.6 290.5 L741.3 290.7 L744.8 289.5 L749.5 286.5"/>
<path d="M718.6 311.0 L721.9 310.3 L725.3 310.8 L728.6 310.5 L731.8 309.4 L735.2 309.8 L736.0 314.1 L737.6 318.1 L741.4 317.4 L744.8 315.7 L748.3 317.1 L751.9 318.1"/>
<path d="M754.3 290.7 L753.7 293.9 L753.3 297.2 L753.9 300.6 L753.1 303.8 L752.7 307.2 L752.4 310.6 L751.6 314.0 L751.3 317.4 L751.0 320.8 L750.9 324.2 L750.7 327.6 L749.7 330.9 L749.5 334.2 L749.0 337.6 L749.1 341.0 L748.3 344.3 L743.6 347.9 L743.0 344.3 L743.1 340.7 L743.6 337.1 L740.2 337.5 L736.9 338.0 L733.4 337.3 L730.1 337.8 L726.7 337.9 L723.3 338.3 L722.6 341.5 L721.9 344.8 L721.6 348.1 L721.0 351.4 L720.0 354.9 L717.5 357.6 L716.2 361.0"/>
<path d="M750.7 327.6 L753.9 328.8 L757.2 329.4 L760.5 330.3 L763.8 331.2 L766.3 328.9 L768.2 326.0 L771.0 324.0 L773.1 326.6 L776.0 328.6 L778.1 331.2 L780.7 329.5 L783.7 328.5 L786.8 327.9 L789.4 326.0 L792.4 325.2 L793.0 328.6 L793.7 332.0 L795.2 335.2 L796.3 338.5 L797.1 341.9 L795.6 345.1 L793.8 348.1 L792.4 351.4 L791.2 354.3 L790.5 357.3 L789.5 360.3 L788.8 363.3 L789.7 366.5 L790.1 369.7 L790.0 373.0"/>
<path d="M792.4 288.3 L790.8 291.1 L788.3 293.4 L786.9 296.3 L784.7 298.7 L782.9 301.4 L782.7 304.8 L781.9 307.9 L780.5 311.0 L778.8 313.8 L776.5 316.1 L774.6 318.7 L772.7 321.3 L771.0 324.0"/>
<path d="M782.9 301.4 L786.2 302.8 L789.2 304.6 L792.4 306.2 L792.4 309.4 L792.4 312.5 L792.9 315.7 L791.9 318.9 L792.8 322.0 L792.4 325.2"/>
<path d="M811.4 287.1 L813.4 289.9 L815.8 292.3 L818.6 294.3 L818.6 297.4 L817.5 300.3 L816.4 303.1 L816.2 306.2 L818.1 309.0 L821.0 310.9 L823.3 313.3 L822.4 317.0 L821.0 320.5 L818.9 322.8 L815.9 324.0 L814.1 326.7 L811.4 328.4 L809.4 330.8 L806.7 332.4 L804.3 334.8 L801.5 336.7 L799.8 339.9 L797.1 341.9"/>
<path d="M823.3 313.3 L825.8 311.2 L827.8 308.6 L830.0 306.2 L833.1 304.7 L835.9 302.6 L838.4 300.2 L841.7 299.0 L844.3 296.7 L847.2 295.2 L849.7 293.3 L852.6 291.8 L855.7 290.9 L858.6 289.5 L859.3 286.3 L860.0 283.1 L861.0 280.0"/>
<path d="M821.0 320.5 L824.3 321.2 L827.4 322.6 L830.5 324.0 L834.0 324.6 L837.2 326.0 L840.7 326.4"/>
<path d="M840.0 333.6 L837.1 335.4 L833.6 335.6 L830.5 337.1 L828.9 340.6 L828.1 344.3 L831.6 346.3 L834.1 349.5 L837.6 351.4 L839.5 351.4"/>
<path d="M821.0 365.7 L824.2 365.2 L827.5 364.6 L830.5 363.3 L830.2 366.3 L829.5 369.3 L828.8 372.3 L828.1 375.2 L826.3 379.2 L825.7 383.5"/>
<path d="M856.8 263.9 L853.4 264.6 L850.1 265.7 L846.8 266.5 L843.4 267.2 L840.9 269.2 L838.4 271.3 L835.6 273.0 L832.4 274.0 L830.0 276.2 L827.9 278.6 L825.1 280.1 L823.5 282.9 L821.0 284.8"/>
<path d="M856.8 263.9 L858.9 267.1 L860.5 270.6 L862.4 273.9 L861.3 277.1 L859.5 280.0 L857.9 282.9 L861.0 280.0"/>
<path d="M917.0 271.7 L916.0 275.4 L915.8 279.1 L915.9 282.9 L912.4 284.0 L909.2 285.7 L905.9 287.3 L902.3 286.8 L898.7 286.7 L895.2 287.2 L891.6 287.0 L888.0 287.3 L884.8 288.5 L881.2 288.4 L878.0 289.4 L874.6 290.0 L870.5 291.9"/>
<path d="M858.6 289.5 L861.5 290.4 L864.5 290.9 L867.6 291.0 L870.5 291.9 L871.9 294.7 L871.7 298.0 L873.6 300.7 L874.0 303.8 L873.8 306.9 L873.8 310.0 L873.6 313.1 L872.8 316.2 L872.9 319.3 L869.2 319.3 L865.8 320.8 L862.1 320.9 L858.6 321.7 L855.7 322.7 L852.6 323.2 L849.7 324.2 L846.8 325.3 L843.8 326.0 L840.7 326.4 L839.9 330.1 L837.8 333.4 L837.1 337.1 L837.7 340.7 L838.7 344.2 L838.4 347.9 L839.5 351.4 L837.2 354.0 L836.0 357.4 L834.6 360.6 L832.4 363.3 L829.4 365.5 L826.0 367.0"/>
<path d="M870.5 291.9 L873.5 290.6 L876.8 290.1 L879.9 289.0 L883.1 288.4 L886.3 287.6 L889.5 287.1 L892.6 287.5 L895.6 288.3 L898.7 288.5 L901.8 288.4 L904.9 288.7 L907.9 289.2 L911.0 289.5 L913.5 291.8 L915.7 294.3"/>
<path d="M872.9 319.3 L877.1 319.7 L881.2 320.5 L884.4 321.8 L887.1 324.0 L885.4 326.6 L882.7 328.4 L881.2 331.2"/>
<path d="M977.3 231.5 L980.4 231.6 L983.3 232.6 L986.2 233.4 L989.1 234.2 L992.3 234.0 L995.2 234.9 L997.2 237.2 L999.0 239.6 L1000.6 242.1 L1002.4 244.6 L1004.1 247.1 L1004.7 250.6 L1005.9 253.9 L1007.0 257.3 L1008.6 260.5 L1008.4 263.7 L1007.7 266.7 L1006.3 269.5 L1008.3 272.6 L1010.4 275.7 L1013.0 278.4 L1013.5 282.1 L1013.9 285.8 L1014.5 289.5 L1016.3 292.4 L1017.0 295.8 L1018.1 299.0 L1021.0 301.4"/>
<path d="M951.7 252.7 L953.0 255.5 L954.9 257.9 L956.7 260.4 L958.3 262.9 L960.6 265.0 L960.2 268.2 L959.7 271.3 L959.0 274.5 L957.9 277.5 L957.2 280.6 L961.0 284.8"/>
<path d="M961.7 282.9 L966.1 283.5 L970.5 283.6 L971.8 286.6 L973.8 289.1 L975.7 291.7 L977.6 294.3 L979.7 296.9 L982.4 299.0 L984.7 301.5 L987.1 303.8 L988.5 306.8 L988.3 310.2 L989.5 313.3 L989.0 316.6 L987.4 319.6 L987.1 322.9 L984.1 323.6 L981.2 324.9 L978.3 326.0 L975.2 326.4 L975.2 331.2 L978.6 332.9 L981.5 335.3 L984.8 337.1 L985.1 340.7 L986.4 344.2 L987.1 347.7 L987.1 351.4 L985.5 354.6 L983.9 357.8 L982.4 361.0 L979.3 363.5 L976.3 366.0 L972.9 368.1"/>
<path d="M919.3 303.8 L922.9 303.5 L926.4 302.4 L930.0 302.6 L932.0 305.1 L933.6 307.9 L934.8 311.0 L937.1 313.3 L939.4 315.8 L941.5 318.5 L944.3 320.5 L947.5 319.7 L950.5 318.6 L953.8 318.1 L954.7 314.4 L956.2 311.0 L954.3 307.1 L951.4 303.8 L954.0 301.6 L956.0 298.9 L958.6 296.7 L958.6 293.6 L959.8 290.7 L960.6 287.8 L961.0 284.8"/>
<path d="M953.8 318.1 L952.0 321.0 L950.3 324.0 L947.9 326.6 L945.7 329.2 L944.3 332.4 L941.3 334.3 L938.2 336.1 L934.8 337.1 L935.0 340.3 L934.9 343.5 L934.8 346.7"/>
<path d="M989.5 313.3 L992.1 311.1 L994.3 308.6 L997.6 308.2 L1001.0 309.0 L1004.3 308.9 L1007.7 308.6 L1011.0 308.6 L1014.7 309.4 L1018.1 311.0 L1018.3 314.3 L1019.9 317.3 L1020.5 320.5 L1019.5 324.0 L1019.6 327.7 L1019.1 331.3 L1018.1 334.8 L1015.9 336.9 L1014.3 339.7 L1011.7 341.5 L1010.2 344.3 L1008.5 346.9 L1006.2 349.0 L1004.7 351.6 L1002.7 353.9 L1000.6 356.1 L999.0 358.6 L999.6 362.3 L1001.4 365.7"/>
<path d="M972.9 380.0 L976.3 378.4 L980.0 377.5 L983.4 376.0 L987.1 375.2 L990.3 373.8 L992.6 371.0 L995.4 369.0 L998.2 367.1 L1001.4 365.7 L1004.4 366.2 L1007.2 367.4 L1010.2 368.0 L1013.3 368.1 L1015.5 370.7 L1017.6 373.3 L1020.5 375.2 L1019.9 378.5 L1020.7 381.9 L1020.9 385.2 L1019.9 388.6 L1020.5 391.9 L1019.0 394.8 L1018.7 398.1 L1016.7 400.7 L1015.7 403.8 L1012.6 404.8 L1009.4 405.6 L1006.2 406.2 L1004.1 404.0 L1002.1 401.7 L1000.0 399.5 L998.4 396.9 L996.7 394.3 L995.9 390.8 L996.1 387.1 L994.4 383.7 L994.3 380.0 L991.0 377.1 L987.1 375.2"/>
<path d="M1015.7 403.8 L1015.6 407.2 L1014.9 410.5 L1013.8 413.8 L1013.4 417.1 L1013.3 420.5 L1012.0 423.7 L1011.0 427.1 L1009.1 430.1 L1007.8 433.4 L1006.2 436.5"/>
<path d="M972.9 389.5 L975.8 391.6 L979.4 392.3 L982.4 394.3 L983.4 397.4 L983.5 400.8 L985.3 403.7 L985.6 406.9 L985.9 410.2 L987.1 413.3 L988.0 416.4 L990.1 419.0 L991.3 422.0 L991.9 425.2 L994.6 426.7 L996.3 429.5 L999.2 430.8 L1001.4 433.0"/>
<path d="M908.6 332.4 L906.9 335.1 L905.3 337.9 L904.5 341.1 L903.1 344.0 L900.9 346.4 L899.9 349.5 L898.9 352.6 L896.9 355.2 L895.9 358.2 L894.3 361.0"/>
<path d="M894.3 361.0 L898.3 360.7 L902.2 360.4 L906.2 361.0 L909.8 361.0 L913.4 360.9 L916.9 360.3 L920.5 359.8 L923.0 362.4 L926.6 363.6 L929.3 365.9 L932.0 368.3 L934.8 370.5 L937.9 370.7 L941.0 370.4 L944.0 369.3 L947.0 368.8 L950.1 368.7 L953.1 368.4 L956.2 368.1 L959.5 368.7 L962.9 367.7 L966.2 368.5 L969.6 368.4 L972.9 368.1"/>
<path d="M894.3 361.0 L893.5 364.1 L893.1 367.3 L893.0 370.5 L892.9 373.7 L892.5 376.9 L891.9 380.0 L890.9 383.0 L889.2 385.8 L888.8 389.1 L887.1 391.9 L886.9 395.0 L886.0 397.9"/>
<path d="M913.3 363.3 L912.5 366.6 L912.7 370.0 L912.5 373.4 L912.1 376.7 L911.0 380.0 L910.3 383.0 L910.0 386.0 L908.6 388.8 L908.6 391.9 L910.6 395.2 L913.3 397.9"/>
<path d="M918.1 361.0 L918.1 364.7 L919.6 368.0 L920.4 371.6 L920.5 375.2 L922.7 377.9 L924.1 381.1 L925.6 384.3 L927.6 387.1 L928.5 390.3 L929.5 393.4 L930.0 396.7 L927.7 398.7 L925.2 400.4 L922.9 402.5"/>
<path d="M925.2 365.7 L926.9 368.2 L928.8 370.7 L930.6 373.1 L932.7 375.4 L934.8 377.6 L937.5 379.7 L939.2 382.7 L941.9 384.8 L941.8 388.8 L941.0 392.7 L940.7 396.7 L942.8 399.0 L944.5 401.6 L946.7 403.8 L947.1 407.4 L947.0 411.0 L947.0 414.5 L946.7 418.1 L946.5 421.2 L945.0 424.0 L944.8 427.0 L944.3 430.0"/>
<path d="M941.9 384.8 L945.2 384.3 L948.6 384.2 L952.0 384.7 L955.3 383.8 L958.6 383.6 L961.7 384.1 L964.4 385.7 L967.5 386.4 L970.5 387.1 L972.9 389.5"/>
<path d="M868.1 363.3 L868.3 366.7 L870.2 369.6 L870.5 372.9 L865.7 375.2 L865.1 378.2 L864.1 381.1 L863.5 384.0 L863.3 387.1 L861.6 390.9 L861.0 395.0"/>
<path d="M870.5 372.9 L873.6 373.8 L876.3 375.5 L879.3 376.7 L882.1 378.2 L884.8 380.0 L886.6 383.9 L889.5 387.1"/>
</g>
</g>
<rect x="645" y="397.9" width="276.7" height="45" fill="#fff"/>
<circle cx="750.8" cy="283.9" r="6.6" fill="#fff" opacity="0.8"/>
<circle cx="750.8" cy="283.9" r="4.9" fill="#f0903a"/>
<g id="pie">
<path d="M782.9 515.4 L782.90 406.60 A108.8 108.8 0 0 1 873.98 455.89 Z" fill="#d8d8d8" stroke="#d8d8d8" stroke-width="0.5" stroke-linejoin="round"/>
<path d="M782.9 515.4 L873.98 455.89 A108.8 108.8 0 1 1 674.47 524.38 Z" fill="#de5155" stroke="#de5155" stroke-width="0.5" stroke-linejoin="round"/>
<path d="M782.9 515.4 L674.47 524.38 A108.8 108.8 0 0 1 677.43 488.69 Z" fill="#fb9a4c" stroke="#fb9a4c" stroke-width="0.5" stroke-linejoin="round"/>
<path d="M782.9 515.4 L677.43 488.69 A108.8 108.8 0 0 1 782.90 406.60 Z" fill="#d6d378" stroke="#d6d378" stroke-width="0.5" stroke-linejoin="round"/>
</g>
</svg>
<div class="hv" style="left:51.7px;top:134.1px;font-size:11.7px;color:#353535;transform:scaleX(1.0599)">ROSENDO</div>
<div class="hv" style="left:51.7px;top:151.1px;font-size:11.7px;color:#353535;transform:scaleX(1.0914)">JERONIMO</div>
<div class="hv" style="left:51.7px;top:168.1px;font-size:11.7px;color:#353535;transform:scaleX(1.0870)">SALVADOR</div>
<div class="hv" style="left:51.7px;top:185.1px;font-size:11.7px;color:#353535;transform:scaleX(1.0853)">CUTEREZ</div>
<div class="lt" style="left:50.6px;top:217.9px;font-size:9.8px;color:#6a5053;transform:scaleX(0.9500);">Alcalde</div>
<div class="hv" style="left:179.7px;top:134.1px;font-size:11.7px;color:#333;transform:scaleX(1.0757)">CLAUDIO</div>
<div class="hv" style="left:179.7px;top:151.1px;font-size:11.7px;color:#333;transform:scaleX(1.0891)">TOL</div>
<div class="hv" style="left:179.7px;top:168.1px;font-size:11.7px;color:#333;transform:scaleX(1.0875)">CHAN</div>
<div class="lt" style="left:178.6px;top:217.9px;font-size:9.8px;color:#4e4e4e;transform:scaleX(0.9500);">Sindico <span style="font-size:84%">1</span></div>
<div class="hv" style="left:301.3px;top:134.1px;font-size:11.7px;color:#333;transform:scaleX(1.0848)">TOMAS</div>
<div class="hv" style="left:301.3px;top:151.1px;font-size:11.7px;color:#333;transform:scaleX(1.1065)">MEJIA</div>
<div class="hv" style="left:301.3px;top:168.1px;font-size:11.7px;color:#333;transform:scaleX(1.0508)">PEREBAL</div>
<div class="lt" style="left:300.2px;top:217.9px;font-size:9.8px;color:#4e4e4e;transform:scaleX(0.9500);">Sindico <span style="font-size:84%">2</span></div>
<div class="hv" style="left:418.1px;top:134.1px;font-size:11.7px;color:#333;transform:scaleX(1.0823)">DANIEL</div>
<div class="hv" style="left:418.1px;top:151.1px;font-size:11.7px;color:#333;transform:scaleX(1.0860)">TEVELAN</div>
<div class="hv" style="left:418.1px;top:168.1px;font-size:11.7px;color:#333;transform:scaleX(1.0800)">GONZALEZ</div>
<div class="lt" style="left:417.0px;top:217.9px;font-size:9.8px;color:#4e4e4e;transform:scaleX(0.9500);">Sindico <span style="font-size:92%;position:relative;top:0.17em">3</span></div>
<div class="hv" style="left:534.5px;top:134.1px;font-size:11.7px;color:#333;transform:scaleX(1.0978)">JUANA</div>
<div class="hv" style="left:534.5px;top:151.1px;font-size:11.7px;color:#333;transform:scaleX(1.0939)">PELIZ</div>
<div class="hv" style="left:534.5px;top:168.1px;font-size:11.7px;color:#333;transform:scaleX(1.0947)">DOMINGUEZ</div>
<div class="lt" style="left:533.4px;top:217.9px;font-size:9.8px;color:#4e4e4e;transform:scaleX(0.9500);">Sindico Suplente</div>
<div class="hv" style="left:56.1px;top:256.1px;font-size:11.7px;color:#333;transform:scaleX(1.0848)">TOMAS</div>
<div class="hv" style="left:56.1px;top:273.1px;font-size:11.7px;color:#333;transform:scaleX(1.0601)">GUARCAS</div>
<div class="hv" style="left:56.1px;top:290.1px;font-size:11.7px;color:#333;transform:scaleX(1.0677)">PEREZ</div>
<div class="lt" style="left:55.0px;top:339.9px;font-size:9.8px;color:#4e4e4e;transform:scaleX(0.9500);">Concejal <span style="font-size:84%">1</span></div>
<div class="hv" style="left:177.9px;top:256.1px;font-size:11.7px;color:#333;transform:scaleX(1.0691)">DIEGO</div>
<div class="hv" style="left:177.9px;top:273.1px;font-size:11.7px;color:#333;transform:scaleX(1.0894)">CANIL</div>
<div class="hv" style="left:177.9px;top:290.1px;font-size:11.7px;color:#333;transform:scaleX(1.0951)">VENTURA</div>
<div class="lt" style="left:176.8px;top:339.9px;font-size:9.8px;color:#4e4e4e;transform:scaleX(0.9500);">Concejal <span style="font-size:84%">2</span></div>
<div class="hv" style="left:300.3px;top:256.1px;font-size:11.7px;color:#333;transform:scaleX(1.0718)">JOSE</div>
<div class="hv" style="left:300.3px;top:273.1px;font-size:11.7px;color:#333;transform:scaleX(1.0951)">VENTURA</div>
<div class="hv" style="left:300.3px;top:290.1px;font-size:11.7px;color:#333;transform:scaleX(1.0921)">RIQUIAC</div>
<div class="lt" style="left:299.2px;top:339.9px;font-size:9.8px;color:#4e4e4e;transform:scaleX(0.9500);">Concejal <span style="font-size:92%;position:relative;top:0.17em">3</span></div>
<div class="hv" style="left:424.0px;top:256.1px;font-size:11.7px;color:#333;transform:scaleX(1.1108)">JUAN</div>
<div class="hv" style="left:424.0px;top:273.1px;font-size:11.7px;color:#333;transform:scaleX(1.0630)">RICARDO</div>
<div class="hv" style="left:424.0px;top:290.1px;font-size:11.7px;color:#333;transform:scaleX(1.0785)">AJANEL</div>
<div class="hv" style="left:424.0px;top:307.1px;font-size:11.7px;color:#333;transform:scaleX(1.0797)">CONOZ</div>
<div class="lt" style="left:422.9px;top:339.9px;font-size:9.8px;color:#4e4e4e;transform:scaleX(0.9500);">Concejal <span style="font-size:92%;position:relative;top:0.17em">4</span></div>
<div class="hv" style="left:536.3px;top:256.1px;font-size:11.7px;color:#333;transform:scaleX(1.0848)">TOMAS</div>
<div class="hv" style="left:536.3px;top:273.1px;font-size:11.7px;color:#333;transform:scaleX(1.0605)">MORALES</div>
<div class="hv" style="left:536.3px;top:290.1px;font-size:11.7px;color:#333;transform:scaleX(1.0605)">MORALES</div>
<div class="lt" style="left:535.2px;top:339.9px;font-size:9.8px;color:#4e4e4e;transform:scaleX(0.9500);">Concejal Suplente <span style="font-size:84%">1</span></div>
<div class="hv" style="left:48.5px;top:377.7px;font-size:11.7px;color:#333;transform:scaleX(1.0627)">RAFAELA</div>
<div class="hv" style="left:48.5px;top:394.7px;font-size:11.7px;color:#333;transform:scaleX(1.0957)">TECUM</div>
<div class="hv" style="left:48.5px;top:411.7px;font-size:11.7px;color:#333;transform:scaleX(1.0797)">CONOZ</div>
<div class="lt" style="left:47.4px;top:461.5px;font-size:9.8px;color:#4e4e4e;transform:scaleX(0.9500);">Concejal Suplente <span style="font-size:84%">2</span></div>
<div class="hv" style="left:177.9px;top:377.7px;font-size:11.7px;color:#333;transform:scaleX(1.0718)">JOSE</div>
<div class="hv" style="left:177.9px;top:394.7px;font-size:11.7px;color:#333;transform:scaleX(1.1320)">TIRIQUIZ</div>
<div class="hv" style="left:177.9px;top:411.7px;font-size:11.7px;color:#333;transform:scaleX(1.1092)">TINIGUAR</div>
<div class="lt" style="left:176.8px;top:461.5px;font-size:9.8px;color:#4e4e4e;transform:scaleX(0.9500);">Concejal <span style="font-size:92%;position:relative;top:0.17em">5</span></div>
<div class="hv" style="left:299.0px;top:377.7px;font-size:11.7px;color:#333;transform:scaleX(1.0848)">TOMAS</div>
<div class="hv" style="left:299.0px;top:394.7px;font-size:11.7px;color:#333;transform:scaleX(1.0601)">GUARCAS</div>
<div class="hv" style="left:299.0px;top:411.7px;font-size:11.7px;color:#333;transform:scaleX(1.0635)">RAMOS</div>
<div class="lt" style="left:297.9px;top:461.5px;font-size:9.8px;color:#4e4e4e;transform:scaleX(0.9500);">Concejal 6</div>
<div class="hv" style="left:423.0px;top:377.7px;font-size:11.7px;color:#333;transform:scaleX(1.0795)">MOISES</div>
<div class="hv" style="left:423.0px;top:394.7px;font-size:11.7px;color:#333;transform:scaleX(1.0878)">MANUEL</div>
<div class="hv" style="left:423.0px;top:411.7px;font-size:11.7px;color:#333;transform:scaleX(1.0853)">CUTEREZ</div>
<div class="hv" style="left:423.0px;top:428.7px;font-size:11.7px;color:#333;transform:scaleX(1.0939)">PELIZ</div>
<div class="lt" style="left:421.9px;top:461.5px;font-size:9.8px;color:#4e4e4e;transform:scaleX(0.9500);">Concejal <span style="font-size:92%;position:relative;top:0.17em">7</span></div>
<div class="hv" style="left:511.1px;top:377.7px;font-size:11.7px;color:#333;transform:scaleX(1.0681)">ALEJANDRA</div>
<div class="hv" style="left:511.1px;top:394.7px;font-size:11.7px;color:#333;transform:scaleX(1.1217)">PATRICIA</div>
<div class="hv" style="left:511.1px;top:411.7px;font-size:11.7px;color:#333;transform:scaleX(1.0967)">MAGALY</div>
<div class="hv" style="left:511.1px;top:428.7px;font-size:11.7px;color:#333;transform:scaleX(1.1065)">MEJIA</div>
<div class="hv" style="left:511.1px;top:445.7px;font-size:11.7px;color:#333;transform:scaleX(1.0804)">RIQUIAC DE CONOZ</div>
<div class="lt" style="left:510.0px;top:461.5px;font-size:9.8px;color:#4e4e4e;transform:scaleX(0.9500);">Concejal Suplente <span style="font-size:92%;position:relative;top:0.17em">3</span></div>
<div class="hv" style="left:65.3px;top:499.9px;font-size:11.7px;color:#333;transform:scaleX(1.0848)">TOMAS</div>
<div class="hv" style="left:65.3px;top:516.9px;font-size:11.7px;color:#333;transform:scaleX(1.1110)">XILOJ</div>
<div class="hv" style="left:65.3px;top:533.9px;font-size:11.7px;color:#333;transform:scaleX(1.0891)">TOL</div>
<div class="lt" style="left:64.2px;top:583.7px;font-size:9.8px;color:#4e4e4e;transform:scaleX(0.9500);">Concejal 8</div>
<div class="hv" style="left:170.9px;top:499.9px;font-size:11.7px;color:#333;transform:scaleX(1.0854)">MARDINA</div>
<div class="hv" style="left:170.9px;top:516.9px;font-size:11.7px;color:#333;transform:scaleX(1.0700)">FRANCISCA</div>
<div class="hv" style="left:170.9px;top:533.9px;font-size:11.7px;color:#333;transform:scaleX(1.0635)">RAMOS</div>
<div class="hv" style="left:170.9px;top:550.9px;font-size:11.7px;color:#333;transform:scaleX(1.0800)">GONZALEZ</div>
<div class="hv" style="left:170.9px;top:567.9px;font-size:11.7px;color:#333;transform:scaleX(1.0723)">DE SAQUIC</div>
<div class="lt" style="left:169.8px;top:583.7px;font-size:9.8px;color:#4e4e4e;transform:scaleX(0.9500);">Concejal <span style="font-size:92%;position:relative;top:0.17em">9</span></div>
<div class="hv" style="left:292.8px;top:499.9px;font-size:11.7px;color:#333;transform:scaleX(1.0878)">MANUEL</div>
<div class="hv" style="left:292.8px;top:516.9px;font-size:11.7px;color:#333;transform:scaleX(1.0798)">SAQUIC</div>
<div class="hv" style="left:292.8px;top:533.9px;font-size:11.7px;color:#333;transform:scaleX(1.0771)">CORTEZ</div>
<div class="lt" style="left:291.7px;top:583.7px;font-size:9.8px;color:#4e4e4e;transform:scaleX(0.9500);">Concejal Suplente <span style="font-size:92%;position:relative;top:0.17em">4</span></div>
<div class="hv" style="left:419.5px;top:499.9px;font-size:11.7px;color:#333;transform:scaleX(1.1064)">PAULINA</div>
<div class="hv" style="left:419.5px;top:516.9px;font-size:11.7px;color:#333;transform:scaleX(1.0833)">HERLINDA</div>
<div class="hv" style="left:419.5px;top:533.9px;font-size:11.7px;color:#333;transform:scaleX(1.0894)">CANIL</div>
<div class="hv" style="left:419.5px;top:550.9px;font-size:11.7px;color:#333;transform:scaleX(1.0875)">CHAN</div>
<div class="lt" style="left:418.4px;top:583.7px;font-size:9.8px;color:#4e4e4e;transform:scaleX(0.9500);">Concejal <span style="font-size:84%">1</span><span style="font-size:84%">0</span></div>
<div class="hv" style="left:666.3px;top:403.7px;font-size:11.7px;color:#494949;transform:scaleX(1.1343)">21.05%</div>
<div class="lt" style="left:680.9px;top:419.2px;font-size:9.4px;color:#505356;transform:scaleX(0.9500);">UNE</div>
<div class="hv" style="left:837.0px;top:403.7px;font-size:11.7px;color:#494949;transform:scaleX(1.1343)">15.79%</div>
<div class="lt" style="left:846.2px;top:419.2px;font-size:9.4px;color:#505356;transform:scaleX(0.9500);">COCIM</div>
<div class="hv" style="left:644.2px;top:479.3px;font-size:11.7px;color:#494949;transform:scaleX(1.1311)">5.26%</div>
<div class="lt" style="left:658.3px;top:495.2px;font-size:9.4px;color:#505356;transform:scaleX(0.9500);">PP</div>
<div class="hv" style="left:819.0px;top:605.4px;font-size:11.7px;color:#494949;transform:scaleX(1.1343)">57.89%</div>
<div class="lt" style="left:829.8px;top:620.9px;font-size:9.4px;color:#505356;transform:scaleX(0.9500);">LIDER</div>
</body></html>
